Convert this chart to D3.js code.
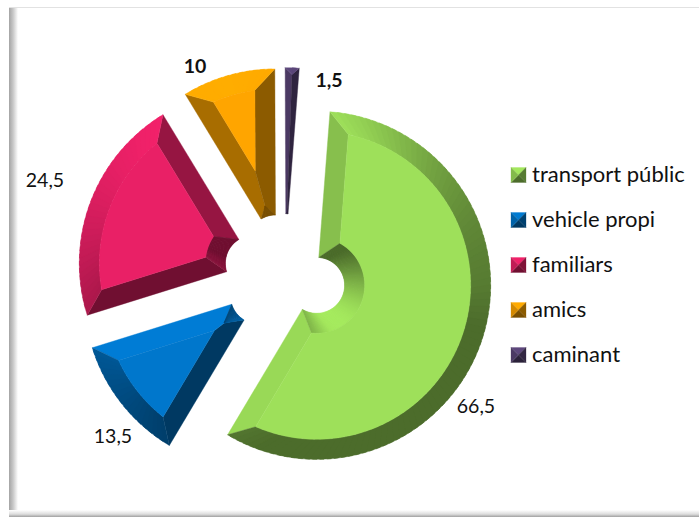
<!DOCTYPE html>
<html>
<head>
<meta charset="utf-8">
<script src="https://cdn.jsdelivr.net/npm/d3@7"></script>
<style>
  html, body { margin: 0; padding: 0; background: #fff; }
  svg { display: block; }
  text { font-family: Lato, "Open Sans", sans-serif; fill: #111; }
</style>
</head>
<body>
<script>
const width = 699
const height = 517

const categories = ['transport públic', 'vehicle propi', 'familiars', 'amics', 'caminant']
const values = [66.5, 13.5, 24.5, 10, 1.5]
const valueLabels = ['66,5', '13,5', '24,5', '10', '1,5']
const colors = ['#9ee05a', '#0077cc', '#e92066', '#ffa500', '#5a4578']

// label spots
const labelX = [476, 113, 45, 195, 329]
const labelY = [413, 443, 187, 73, 87]
const labelWeight = [400, 400, 400, 700, 700]

const cx = 284.7
const cy = 275.2
const explode = 33.5
const outerR = 174
const innerR = 28
const bevel = 20
const startDeg = 4.4

const svg = d3.select('body').append('svg')
  .attr('width', width)
  .attr('height', height)

// frame of the picture: thin line on top, soft shadow left and bottom
const defs = svg.append('defs')
const leftGrad = defs.append('linearGradient').attr('id', 'leftShade')
leftGrad.append('stop').attr('offset', 0).attr('stop-color', '#a4a4a4')
leftGrad.append('stop').attr('offset', 0.45).attr('stop-color', '#c8c8c8')
leftGrad.append('stop').attr('offset', 1).attr('stop-color', '#ffffff')
const bottomGrad = defs.append('linearGradient').attr('id', 'bottomShade')
  .attr('x1', 0).attr('y1', 0).attr('x2', 0).attr('y2', 1)
bottomGrad.append('stop').attr('offset', 0).attr('stop-color', '#ffffff')
bottomGrad.append('stop').attr('offset', 0.6).attr('stop-color', '#dcdcdc')
bottomGrad.append('stop').attr('offset', 1).attr('stop-color', '#a0a0a0')

svg.append('rect').attr('x', 9).attr('y', 7).attr('width', 690).attr('height', 1).attr('fill', '#e2e2e2')
svg.append('rect').attr('x', 9).attr('y', 8).attr('width', 9).attr('height', 509).attr('fill', 'url(#leftShade)')
svg.append('rect').attr('x', 9).attr('y', 510).attr('width', 690).attr('height', 7).attr('fill', 'url(#bottomShade)')

// facet brightness from the direction it faces (light comes from above, a bit left)
const shade = function (color, nx, ny) {
  const side = nx < 0 ? -0.1 * nx : -0.18 * nx
  const raw = 0.73 + side - 0.3 * ny - 0.2 * Math.max(0, nx) * Math.max(0, -ny)
  const s = Math.max(0.48, Math.min(1.07, raw))
  const c = d3.rgb(color)
  return d3.rgb(Math.min(255, c.r * s), Math.min(255, c.g * s), Math.min(255, c.b * s)).formatHex()
}

const pie = d3.pie().sort(null)
  .startAngle(startDeg * Math.PI / 180)
  .endAngle(startDeg * Math.PI / 180 + 2 * Math.PI)
const slices = pie(values)

const line = d3.line()
const polar = function (a, r) {
  return [r * Math.sin(a), -r * Math.cos(a)]
}
const arcPoints = function (a0, a1, r) {
  const n = Math.max(2, Math.ceil(Math.abs(a1 - a0) * r / 4))
  return d3.range(n + 1).map(function (i) {
    return polar(a0 + (a1 - a0) * i / n, r)
  })
}

const drawSlice = function (d, i) {
  const color = colors[i]
  const a0 = d.startAngle
  const a1 = d.endAngle
  const mid = (a0 + a1) / 2
  const half = (a1 - a0) / 2
  const sinH = Math.sin(half)
  const g = svg.append('g')
    .attr('transform', 'translate(' + (cx + explode * Math.sin(mid)) + ',' + (cy - explode * Math.cos(mid)) + ')')

  const poly = function (pts, fill) {
    g.append('path').attr('d', line(pts) + 'Z').attr('fill', fill)
      .attr('stroke', fill).attr('stroke-width', 0.4).attr('stroke-linejoin', 'round')
  }

  // how the bevel closes at the rim and at the hole when the slice is narrow
  const topR = outerR - bevel
  const offOuter = Math.asin(Math.min(1, bevel / topR))
  const rimTipR = outerR / (1 + sinH)
  const faceTipR = bevel / sinH
  const hasFace = faceTipR < rimTipR
  const fullRim = hasFace && half > offOuter
  const holeR = innerR + bevel
  const fullHole = sinH * holeR >= bevel
  const holeTipR = innerR / (1 - sinH)
  const offInner = fullHole ? Math.asin(bevel / holeR) : 0

  // points where the facets meet, on each side of the slice
  const rimA = fullRim ? polar(a0 + offOuter, topR) : polar(mid, rimTipR)
  const rimB = fullRim ? polar(a1 - offOuter, topR) : polar(mid, rimTipR)
  const holeA = fullHole ? polar(a0 + offInner, holeR) : polar(mid, holeTipR)
  const holeB = fullHole ? polar(a1 - offInner, holeR) : polar(mid, holeTipR)
  const facePt = polar(mid, faceTipR)

  // side facets
  const sideA = [polar(a0, innerR), holeA]
  const sideB = [polar(a1, innerR), holeB]
  if (!fullHole && hasFace) {
    sideA.push(facePt)
    sideB.push(facePt)
  }
  sideA.push(rimA, polar(a0, outerR))
  sideB.push(rimB, polar(a1, outerR))
  poly(sideA, shade(color, -Math.cos(a0), -Math.sin(a0)))
  poly(sideB, shade(color, Math.cos(a1), Math.sin(a1)))

  // rim and hole facets are cut in small steps so the shade can turn with the angle,
  // each step runs a bit under the next one so no seams show
  const steps = Math.max(2, Math.ceil((a1 - a0) * 24))
  d3.range(steps).forEach(function (k) {
    const u0 = k / steps
    const u1 = Math.min(1, (k + 1.6) / steps)
    const oA = function (u) { return a0 + (a1 - a0) * u }
    const rimIn = function (u) {
      return fullRim ? polar(a0 + offOuter + (a1 - a0 - 2 * offOuter) * u, topR) : polar(mid, rimTipR)
    }
    const holeOut = function (u) {
      return fullHole ? polar(a0 + offInner + (a1 - a0 - 2 * offInner) * u, holeR) : polar(mid, holeTipR)
    }
    const am = oA((k + 0.5) / steps)
    const uMid = (u0 + u1) / 2
    poly([polar(oA(u0), outerR), polar(oA(uMid), outerR), polar(oA(u1), outerR), rimIn(u1), rimIn(u0)],
      shade(color, Math.sin(am), -Math.cos(am)))
    poly([polar(oA(u0), innerR), polar(oA(uMid), innerR), polar(oA(u1), innerR), holeOut(u1), holeOut(u0)],
      shade(color, -Math.sin(am), Math.cos(am)))
  })

  // flat top of the slice
  if (hasFace) {
    const rimEdge = fullRim ? arcPoints(a0 + offOuter, a1 - offOuter, topR) : [polar(mid, rimTipR)]
    const holeEdge = fullHole ? arcPoints(a1 - offInner, a0 + offInner, holeR) : [facePt]
    poly(rimEdge.concat(holeEdge), color)
  }
}

slices.forEach(drawSlice)

// value labels
svg.selectAll('text.value')
  .data(valueLabels)
  .enter()
  .append('text')
  .attr('class', 'value')
  .attr('x', function (d, i) { return labelX[i] })
  .attr('y', function (d, i) { return labelY[i] })
  .attr('text-anchor', 'middle')
  .attr('font-size', '19.5px')
  .attr('font-weight', function (d, i) { return labelWeight[i] })
  .text(function (d) { return d })

// legend
const legendY = d3.scalePoint().domain(categories).range([175, 355])
const swatch = 15
const legend = svg.selectAll('g.legend')
  .data(categories)
  .enter()
  .append('g')
  .attr('class', 'legend')
  .attr('transform', function (d) { return 'translate(518.5,' + legendY(d) + ')' })

legend.each(function (d, i) {
  const g = d3.select(this)
  const s = swatch / 2
  const sides = [
    [[-s, -s], [s, -s], [0, 0], 0, -1],
    [[s, -s], [s, s], [0, 0], 1, 0],
    [[s, s], [-s, s], [0, 0], 0, 1],
    [[-s, s], [-s, -s], [0, 0], -1, 0]
  ]
  sides.forEach(function (t) {
    const fill = shade(colors[i], t[3], t[4])
    g.append('path').attr('d', line(t.slice(0, 3)) + 'Z').attr('fill', fill)
      .attr('stroke', fill).attr('stroke-width', 0.3)
  })
})

legend.append('text')
  .attr('x', 13.5)
  .attr('y', 7)
  .attr('font-size', '22px')
  .text(function (d) { return d })
</script>
</body>
</html>
